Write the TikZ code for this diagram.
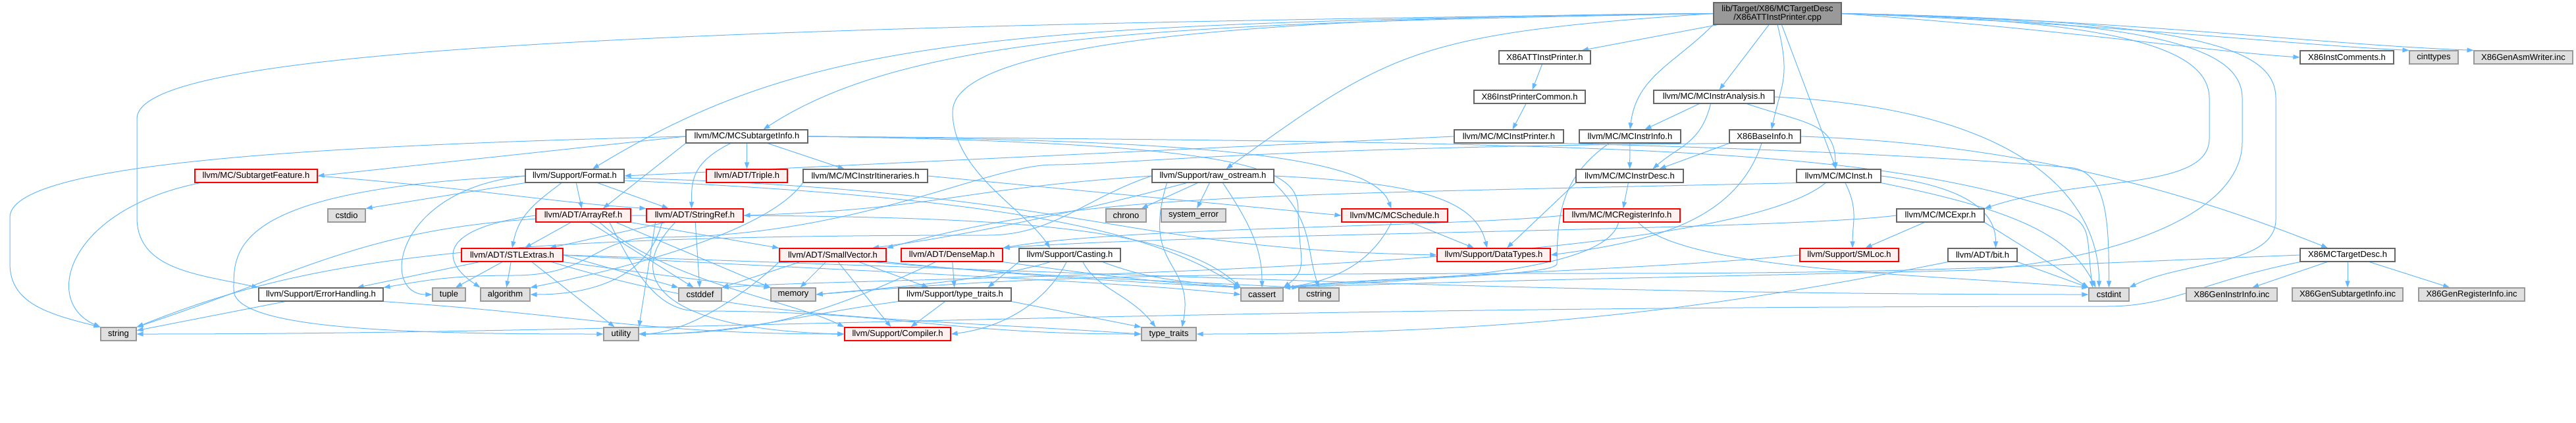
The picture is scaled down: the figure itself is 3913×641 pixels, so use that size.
\documentclass[tikz,border=0pt]{standalone}
\usepackage{fontspec}
\setmainfont{Liberation Sans}
\usetikzlibrary{arrows.meta,backgrounds}

\definecolor{edgeblue}{HTML}{63B8FF}
\definecolor{boxgray}{HTML}{666666}
\definecolor{sysgray}{HTML}{999999}
\definecolor{sysfill}{HTML}{E0E0E0}
\definecolor{docred}{HTML}{FF0000}
\definecolor{docpink}{HTML}{FFF0F0}
\definecolor{rootfill}{HTML}{999999}

\begin{document}
\begin{tikzpicture}[x=1pt, y=1pt,
    basebox/.style={rectangle, inner sep=0pt, minimum height=20pt, line width=1.2pt,
                    font=\fontsize{13}{13}\selectfont},
    hdrbox/.style={basebox, draw=boxgray, fill=white},
    redbox/.style={basebox, draw=docred, fill=docpink},
    sysbox/.style={basebox, draw=sysgray, fill=sysfill},
    srcbox/.style={basebox, draw=boxgray, fill=rootfill, minimum height=33pt,
                   align=center, font=\fontsize{13}{12.5}\selectfont},
    dep/.style={draw=edgeblue, line width=1pt, -{Triangle[length=10pt,width=7pt]}}]

    \useasboundingbox (0,0) rectangle (3913,-641);

    % The file itself
    \node[srcbox, minimum width=194pt] (main) at (2700,-20.5) {lib/Target/X86/MCTargetDesc\\/X86ATTInstPrinter.cpp};

    % Row 1
    \node[hdrbox, minimum width=139pt] (attp) at (2346.5,-87) {X86ATTInstPrinter.h};
    \node[hdrbox, minimum width=142pt] (cmts) at (3565,-87) {X86InstComments.h};
    \node[sysbox, minimum width=74pt] (cinttypes) at (3697,-87) {cinttypes};
    \node[sysbox, minimum width=150pt] (asmw) at (3833,-87) {X86GenAsmWriter.inc};

    % Row 2
    \node[hdrbox, minimum width=169pt] (ipc) at (2323.5,-147) {X86InstPrinterCommon.h};
    \node[hdrbox, minimum width=183pt] (ana) at (2603.5,-147) {llvm/MC/MCInstrAnalysis.h};

    % Row 3
    \node[hdrbox, minimum width=185pt] (sti) at (1134.5,-207) {llvm/MC/MCSubtargetInfo.h};
    \node[hdrbox, minimum width=166pt] (iprn) at (2292,-207) {llvm/MC/MCInstPrinter.h};
    \node[hdrbox, minimum width=154pt] (iinfo) at (2476,-207) {llvm/MC/MCInstrInfo.h};
    \node[hdrbox, minimum width=108pt] (base) at (2681,-207) {X86BaseInfo.h};

    % Row 4
    \node[redbox, minimum width=186pt] (feat) at (389,-267) {llvm/MC/SubtargetFeature.h};
    \node[hdrbox, minimum width=150pt] (fmt) at (873,-267) {llvm/Support/Format.h};
    \node[redbox, minimum width=123pt] (triple) at (1134.5,-267) {llvm/ADT/Triple.h};
    \node[hdrbox, minimum width=189pt] (itin) at (1314.5,-267) {llvm/MC/MCInstrItineraries.h};
    \node[hdrbox, minimum width=185pt] (ostr) at (1842.5,-267) {llvm/Support/raw\_ostream.h};
    \node[hdrbox, minimum width=163pt] (desc) at (2475.5,-267) {llvm/MC/MCInstrDesc.h};
    \node[hdrbox, minimum width=128pt] (inst) at (2793,-267) {llvm/MC/MCInst.h};

    % Row 5
    \node[sysbox, minimum width=57pt] (cstdio) at (526.5,-327) {cstdio};
    \node[redbox, minimum width=144pt] (aref) at (886,-327) {llvm/ADT/ArrayRef.h};
    \node[redbox, minimum width=147pt] (sref) at (1055.5,-327) {llvm/ADT/StringRef.h};
    \node[sysbox, minimum width=61pt] (chrono) at (1710.5,-327) {chrono};
    \node[sysbox, minimum width=98pt] (syserr) at (1813,-327) {system\_error};
    \node[redbox, minimum width=161pt] (sched) at (2118.5,-327) {llvm/MC/MCSchedule.h};
    \node[redbox, minimum width=177pt] (reginfo) at (2463.5,-327) {llvm/MC/MCRegisterInfo.h};
    \node[hdrbox, minimum width=133pt] (expr) at (2947.5,-327) {llvm/MC/MCExpr.h};

    % Row 6
    \node[redbox, minimum width=154pt] (stlx) at (778,-387) {llvm/ADT/STLExtras.h};
    \node[redbox, minimum width=162pt] (svec) at (1265,-387) {llvm/ADT/SmallVector.h};
    \node[redbox, minimum width=154pt] (dmap) at (1446,-387) {llvm/ADT/DenseMap.h};
    \node[hdrbox, minimum width=154pt] (cast) at (1625,-387) {llvm/Support/Casting.h};
    \node[redbox, minimum width=172pt] (dtypes) at (2269,-387) {llvm/Support/DataTypes.h};
    \node[redbox, minimum width=150pt] (smloc) at (2809,-387) {llvm/Support/SMLoc.h};
    \node[hdrbox, minimum width=105pt] (bit) at (3011.5,-387) {llvm/ADT/bit.h};
    \node[hdrbox, minimum width=144pt] (tdesc) at (3566,-387) {X86MCTargetDesc.h};

    % Row 7
    \node[hdrbox, minimum width=189pt] (errh) at (487.5,-447) {llvm/Support/ErrorHandling.h};
    \node[sysbox, minimum width=50pt] (tuple) at (682,-447) {tuple};
    \node[sysbox, minimum width=75pt] (algo) at (767.5,-447) {algorithm};
    \node[sysbox, minimum width=65pt] (cstddef) at (1063.5,-447) {cstddef};
    \node[sysbox, minimum width=68pt] (memory) at (1205,-447) {memory};
    \node[hdrbox, minimum width=171pt] (ttraits) at (1450.5,-447) {llvm/Support/type\_traits.h};
    \node[sysbox, minimum width=64pt] (cassert) at (1917,-447) {cassert};
    \node[sysbox, minimum width=61pt] (cstring) at (2003.5,-447) {cstring};
    \node[sysbox, minimum width=61pt] (cstdint) at (3203.5,-447) {cstdint};
    \node[sysbox, minimum width=138pt] (geninstr) at (3390,-447) {X86GenInstrInfo.inc};
    \node[sysbox, minimum width=168pt] (gensub) at (3566,-447) {X86GenSubtargetInfo.inc};
    \node[sysbox, minimum width=161pt] (genreg) at (3754.5,-447) {X86GenRegisterInfo.inc};

    % Row 8
    \node[sysbox, minimum width=54pt] (string) at (180,-507) {string};
    \node[sysbox, minimum width=53pt] (utility) at (943.5,-507) {utility};
    \node[redbox, minimum width=161pt] (compiler) at (1363.5,-507) {llvm/Support/Compiler.h};
    \node[sysbox, minimum width=83pt] (typetr) at (1775.5,-507) {type\_traits};

    \begin{pgfonlayer}{background}
    \fill[white] (0,0) rectangle (3913,-641);

    % Includes of the .cpp file
    \draw[dep] (main) -- (attp);
    \draw[dep] (main) -- (ana);
    \draw[dep] (main.south) .. controls +(20,-80) and +(15,70) .. ([xshift=10pt]base.north);
    \draw[dep] (main) -- (inst);
    \draw[dep] (main.south west) .. controls +(-60,-60) and +(10,80) .. (iinfo.north);
    \draw[dep] (main.east) .. controls +(350,-25) and +(-150,10) .. (cmts.west);
    \draw[dep] (main.east) .. controls +(400,-15) and +(-200,10) .. (cinttypes.north west);
    \draw[dep] (main.east) .. controls +(450,-10) and +(-250,10) .. (asmw.north west);
    \draw[dep] (main.west) .. controls +(-800,-15) and +(230,150) .. ([xshift=25pt]sti.north);
    \draw[dep] (main.west) .. controls +(-1100,-15) and +(330,200) .. ([xshift=27pt]fmt.north);
    \draw[dep] (main.west) .. controls +(-450,-30) and +(250,180) .. ([xshift=20pt]ostr.north);
    \draw[dep] (main.west) .. controls +(-900,-5) and +(0,80) .. (1447,-170)
        .. controls +(0,-90) and +(-40,60) .. ([xshift=-30pt]cast.north);
    \draw[dep] (main.west) .. controls +(-1700,-20) and +(0,100) .. (208,-180) -- (208,-330)
        .. controls +(0,-80) and +(-90,20) .. (errh.north west);
    \draw[dep] (main.east) .. controls +(450,-10) and +(0,70) .. (3356,-150) -- (3356,-210)
        .. controls +(0,-80) and +(150,50) .. (expr.north east);
    \draw[dep] (main.east) .. controls +(510,-10) and +(0,70) .. (3406,-150) -- (3406,-215)
        .. controls +(0,-115) and +(200,15) .. (3000,-410)
        .. controls +(-400,-10) and +(350,12) .. (cassert.north east);
    \draw[dep] (main.east) .. controls +(570,-10) and +(0,70) .. (3457,-150) -- (3457,-333)
        .. controls +(0,-70) and +(80,40) .. (cstdint.north east);

    % Printer chain
    \draw[dep] (attp) -- (ipc);
    \draw[dep] (ipc) -- (iprn);
    \draw[dep] (iprn.west) -- (fmt.east);
    \draw[dep] (iprn.south east) .. controls +(400,-10) and +(-100,10) .. (3150,-255)
        .. controls +(50,-10) and +(0,100) .. (cstdint.north);

    % MCInstrAnalysis
    \draw[dep] (ana) -- (iinfo);
    \draw[dep] ([xshift=-5pt]ana.south) .. controls +(-15,-60) and +(40,35) .. ([xshift=35pt]desc.north);
    \draw[dep] ([xshift=50pt]ana.south) .. controls +(90,-30) and +(0,70) .. ([xshift=-5pt]inst.north);
    \draw[dep] (ana.east) .. controls +(400,-20) and +(0,120) .. ([xshift=-15pt]cstdint.north);

    % MCInstrInfo and MCInstrDesc
    \draw[dep] (iinfo) -- (desc);
    \draw[dep] ([xshift=-32pt]iinfo.south) .. controls +(-70,-50) and +(0,80) .. (2365,-400)
        .. controls +(0,-20) and +(150,15) .. (cassert.north east);
    \draw[dep] (desc) -- (reginfo);
    \draw[dep] (desc.south west) -- ([xshift=20pt]dtypes.north);

    % X86BaseInfo
    \draw[dep] (base.south west) -- ([xshift=45pt]desc.north);
    \draw[dep] ([xshift=-5pt]base.south) .. controls +(-40,-120) and +(150,20) .. (dtypes.east);
    \draw[dep] (base.east) .. controls +(300,-10) and +(-250,100) .. ([xshift=-30pt]tdesc.north);
    \draw[dep] (base.south west) .. controls +(-700,-5) and +(100,0) .. (1600,-250)
        .. controls +(-100,0) and +(300,0) .. (1000,-360)
        .. controls +(-100,0) and +(120,0) .. (780,-418)
        .. controls +(-100,0) and +(60,10) .. (errh.north east);

    % X86MCTargetDesc
    \draw[dep] (tdesc) -- (geninstr);
    \draw[dep] (tdesc) -- (gensub);
    \draw[dep] (tdesc) -- (genreg);
    \draw[dep] (tdesc.west) .. controls +(-500,-20) and +(500,0) .. (2400,-415)
        .. controls +(-700,0) and +(300,25) .. (memory.east);
    \draw[dep] (tdesc.south west) .. controls +(-150,-30) and +(100,0) .. (3200,-465)
        .. controls +(-1500,0) and +(800,0) .. (string.east);

    % MCSubtargetInfo
    \draw[dep] (sti.west) -- (feat.east);
    \draw[dep] (sti.west) .. controls +(-600,-15) and +(0,80) .. (15,-330) -- (15,-400)
        .. controls +(0,-60) and +(-80,20) .. (string.north west);
    \draw[dep] ([xshift=-25pt]sti.south) .. controls +(-60,-30) and +(0,40) .. ([xshift=-5pt]sref.north);
    \draw[dep] (sti) -- (triple);
    \draw[dep] (sti) -- (itin);
    \draw[dep] (sti.south west) -- ([xshift=30pt]aref.north);
    \draw[dep] (sti.east) .. controls +(600,-5) and +(-30,80) .. ([xshift=-5pt]sched.north);
    \draw[dep] (sti.east) .. controls +(700,-10) and +(0,60) .. (1972,-320)
        .. controls +(0,-70) and +(40,30) .. (cassert.north east);
    \draw[dep] (sti.east) .. controls +(1200,-10) and +(-300,100) .. (3130,-320)
        .. controls +(50,-20) and +(-10,80) .. ([xshift=-25pt]cstdint.north);

    % SubtargetFeature
    \draw[dep] ([xshift=-85pt]feat.south) .. controls +(-200,-40) and +(-90,40) .. (string.north west);
    \draw[dep] (feat.east) .. controls +(250,-20) and +(-150,10) .. (sref.north west);

    % Format
    \draw[dep] (fmt) -- (aref);
    \draw[dep] ([xshift=-20pt]fmt.south) .. controls +(-40,-30) and +(10,50) .. (stlx.north);
    \draw[dep] ([xshift=35pt]fmt.south) -- ([xshift=-40pt]sref.north);
    \draw[dep] (fmt.south west) -- (cstdio.north east);
    \draw[dep] ([yshift=-3pt]fmt.east) .. controls +(700,-20) and +(-500,10) .. (dtypes.west);
    \draw[dep] ([yshift=-7pt]fmt.east) .. controls +(700,-30) and +(-100,60) .. (cassert.north west);
    \draw[dep] (fmt.west) .. controls +(-200,-20) and +(-80,0) .. (tuple.west);
    \draw[dep] (fmt.west) .. controls +(-450,-20) and +(0,60) .. (355,-440)
        .. controls +(0,-60) and +(-300,0) .. (utility.west);

    % ArrayRef
    \draw[dep] (aref) -- (stlx);
    \draw[dep] (aref.west) .. controls +(-150,-20) and +(-60,40) .. (algo.north west);
    \draw[dep] (aref.south east) -- (svec.north west);
    \draw[dep] ([xshift=25pt]aref.south) .. controls +(100,-90) and +(-80,40) .. (compiler.north west);
    \draw[dep] ([xshift=10pt]aref.south) -- ([xshift=-10pt]cstddef.north);
    \draw[dep] ([xshift=50pt]aref.south) -- (memory.north west);
    \draw[dep] ([xshift=40pt]aref.south) .. controls +(40,-80) and +(-60,0) .. (1060,-472)
        .. controls +(300,0) and +(-300,0) .. (typetr.west);

    % StringRef
    \draw[dep] ([xshift=-45pt]sref.south) -- ([xshift=57pt]stlx.north);
    \draw[dep] (sref) -- (cstddef);
    \draw[dep] ([xshift=-30pt]sref.south) .. controls +(-80,-83) and +(-283,7) .. (compiler.west);
    \draw[dep] ([xshift=-50pt]sref.south) .. controls +(-20,-80) and +(100,0) .. (algo.east);
    \draw[dep] (sref.west) .. controls +(-400,0) and +(300,100) .. (string.north east);
    \draw[dep] (sref.east) .. controls +(400,-3) and +(-100,92) .. (cassert.north west);
    \draw[dep] ([xshift=-60pt]sref.south) -- (utility.north east);

    % STLExtras
    \draw[dep] ([xshift=-50pt]stlx.south) -- ([xshift=55pt]errh.north);
    \draw[dep] ([xshift=-15pt]stlx.south) -- ([xshift=10pt]tuple.north);
    \draw[dep] (stlx) -- (algo);
    \draw[dep] ([xshift=30pt]stlx.south) -- ([xshift=-10pt]utility.north);
    \draw[dep] (stlx.east) -- (cstddef.north west);
    \draw[dep] (stlx.south east) .. controls +(150,-20) and +(-100,10) .. (memory.north west);
    \draw[dep] (stlx.east) .. controls +(300,-18) and +(-200,22) .. (cassert.west);
    \draw[dep] (stlx.east) .. controls +(900,-30) and +(-800,0) .. (cstdint.west);
    \draw[dep] ([xshift=60pt]stlx.south) .. controls +(300,-90) and +(-400,27) .. (typetr.west);

    % SmallVector
    \draw[dep] ([xshift=-50pt]svec.south) -- (cstddef.north east);
    \draw[dep] (svec) -- (memory);
    \draw[dep] ([xshift=40pt]svec.south) -- ([xshift=-40pt]ttraits.north);
    \draw[dep] ([xshift=8pt]svec.south) -- ([xshift=-10pt]compiler.north);
    \draw[dep] (svec.south east) .. controls +(200,-20) and +(-200,10) .. (cassert.north west);
    \draw[dep] ([xshift=-20pt]svec.south east) .. controls +(300,-25) and +(-300,15) .. (cstring.north west);
    \draw[dep] (svec.south west) .. controls +(-44,-42) and +(80,2) .. (utility.east);

    % DenseMap
    \draw[dep] (dmap) -- (ttraits);
    \draw[dep] ([xshift=-25pt]dmap.south) .. controls +(-150,-70) and +(200,0) .. (utility.east);
    \draw[dep] (dmap.south east) .. controls +(150,-20) and +(-150,10) .. (cassert.north west);

    % type_traits.h
    \draw[dep] ([xshift=-15pt]ttraits.south) -- ([xshift=20pt]compiler.north);
    \draw[dep] (ttraits.south west) .. controls +(-150,-20) and +(150,0) .. (utility.east);
    \draw[dep] (ttraits.south east) -- (typetr.north west);

    % Casting
    \draw[dep] ([xshift=-5pt]cast.south) .. controls +(-30,-60) and +(80,10) .. (compiler.east);
    \draw[dep] (cast.south west) -- ([xshift=50pt]ttraits.north);
    \draw[dep] ([xshift=50pt]cast.south) .. controls +(80,-30) and +(-80,10) .. (cassert.north west);
    \draw[dep] ([xshift=20pt]cast.south) .. controls +(20,-40) and +(-40,50) .. ([xshift=-20pt]typetr.north);
    \draw[dep] ([xshift=-30pt]cast.south) .. controls +(-100,-30) and +(100,10) .. (memory.east);

    % ErrorHandling
    \draw[dep] (errh) -- (string);
    \draw[dep] (errh.south east) .. controls +(300,-20) and +(-300,0) .. (compiler.west);

    % raw_ostream
    \draw[dep] (ostr) -- (chrono);
    \draw[dep] (ostr) -- (syserr);
    \draw[dep] ([xshift=15pt]ostr.south) .. controls +(40,-60) and +(0,60) .. (cassert.north);
    \draw[dep] (ostr.west) .. controls +(-300,-20) and +(300,10) .. (sref.east);
    \draw[dep] ([xshift=-40pt]ostr.south) .. controls +(-150,-40) and +(150,20) .. ([xshift=60pt]svec.north);
    \draw[dep] (ostr.east) .. controls +(200,-10) and +(-20,80) .. ([xshift=-10pt]dtypes.north);
    \draw[dep] (ostr.south east) .. controls +(60,-60) and +(-20,60) .. (cstring.north);
    \draw[dep] ([xshift=-70pt]ostr.south) .. controls +(-40,-130) and +(20,100) .. ([xshift=20pt]typetr.north);
    \draw[dep] (ostr.west) .. controls +(-100,-33) and +(100,0) .. (1500,-357)
        .. controls +(-800,0) and +(250,100) .. (string.north east);

    % MCSchedule and MCInstrItineraries
    \draw[dep] ([xshift=25pt]sched.south) -- ([xshift=-30pt]dtypes.north);
    \draw[dep] ([xshift=-5pt]sched.south) .. controls +(-30,-60) and +(80,10) .. (cassert.north east);
    \draw[dep] (itin.east) -- (sched.west);
    \draw[dep] (itin.south west) .. controls +(-60,-83) and +(100,20) .. (algo.north east);

    % MCRegisterInfo
    \draw[dep] (reginfo.west) .. controls +(-175,-18) and +(177,32) .. (dmap.north east);
    \draw[dep] ([xshift=-5pt]reginfo.south) .. controls +(-20,-83) and +(150,10) .. (cassert.north east);
    \draw[dep] ([xshift=25pt]reginfo.south) .. controls +(70,-73) and +(-250,20) .. (cstdint.north west);

    % MCInst
    \draw[dep] ([xshift=10pt]inst.south) .. controls +(20,-40) and +(0,40) .. ([xshift=5pt]smloc.north);
    \draw[dep] (inst.south west) .. controls +(-900,-20) and +(300,80) .. (svec.north east);
    \draw[dep] (inst.east) .. controls +(120,-15) and +(0,60) .. ([xshift=20pt]bit.north);
    \draw[dep] ([xshift=-20pt]inst.south) .. controls +(-173,-143) and +(204,17) .. (cstddef.north east);
    \draw[dep] (inst.south east) .. controls +(200,-40) and +(-40,80) .. ([xshift=-20pt]cstdint.north);

    % MCExpr
    \draw[dep] (expr) -- (smloc);
    \draw[dep] (expr.west) .. controls +(-181,-23) and +(277,22) .. (dmap.north east);
    \draw[dep] (expr.south east) -- (cstdint.north west);

    % SMLoc and bit.h
    \draw[dep] (smloc.west) .. controls +(-234,-23) and +(151,17) .. (cassert.north east);
    \draw[dep] (bit.south east) -- (cstdint.north west);
    \draw[dep] (bit.south west) .. controls +(-359,-72) and +(483,0) .. (typetr.east);
    \end{pgfonlayer}

\end{tikzpicture}
\end{document}
